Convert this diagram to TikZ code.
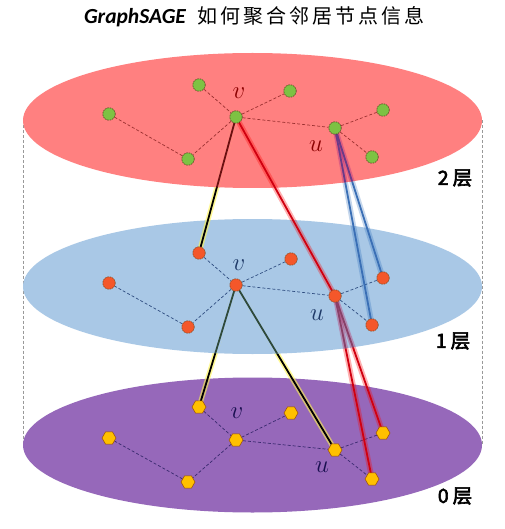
\documentclass[tikz,border=0pt]{standalone}
\usepackage{fontspec}
\newfontfamily\cjk[LetterSpace=15]{Noto Sans CJK SC}
\newfontfamily\cjkb[FakeBold=3]{Noto Sans CJK SC}
\newfontfamily\calib{Carlito}
\usetikzlibrary{shapes.geometric}
\pgfdeclarelayer{bg}
\pgfdeclarelayer{edges}
\pgfsetlayers{bg,edges,main}
\definecolor{topfill}{HTML}{FF8080}
\definecolor{midfill}{HTML}{A9C8E6}
\definecolor{botfill}{HTML}{9668BA}
\definecolor{edgeT}{HTML}{9A3030}
\definecolor{edgeM}{HTML}{2F4D80}
\definecolor{edgeB}{HTML}{3A2A70}
\definecolor{nodeG}{HTML}{7DC243}
\definecolor{nodeO}{HTML}{F4572A}
\definecolor{nodeY}{HTML}{FFC000}
\definecolor{lblT}{HTML}{8B0000}
\definecolor{lblM}{HTML}{1F3A68}
\definecolor{lblB}{HTML}{1A1050}
\definecolor{lineR}{HTML}{D00010}
\definecolor{lineB}{HTML}{3A6FB5}
\definecolor{tintK}{HTML}{6A1010}
\definecolor{tintB}{HTML}{6A3A88}
\definecolor{tintG}{HTML}{2F4A3A}
\definecolor{tintR}{HTML}{8A4068}
\tikzset{
  layer/.style={ellipse, minimum width=459pt, minimum height=135pt, inner sep=0pt},
  gnode/.style={circle, fill=nodeG, draw=black!55!brown, dash pattern=on 1.5pt off 1pt, line width=0.6pt, minimum size=12.5pt, inner sep=0pt},
  onode/.style={circle, fill=nodeO, draw=black!40!brown, dash pattern=on 1.5pt off 1pt, line width=0.6pt, minimum size=12.5pt, inner sep=0pt},
  ynode/.style={regular polygon, regular polygon sides=6, fill=nodeY, draw=orange!60!black, line width=0.5pt, minimum size=14pt, inner sep=0pt},
  intra/.style={dash pattern=on 3pt off 2pt, line width=0.7pt},
  lbl/.style={font=\fontsize{25}{25}\selectfont, inner sep=0pt},
  lay/.style={font=\cjkb\fontsize{19.5}{20}\selectfont, inner sep=0pt},
  glowY/.style={draw=yellow!70!white, line width=5pt, opacity=0.6},
  glowR/.style={draw=red, line width=5.5pt, opacity=0.3},
  glowB/.style={draw=cyan!40!blue, line width=5.5pt, opacity=0.25},
  coreK/.style={draw=black, line width=1.8pt},
  coreR/.style={draw=lineR, line width=1.8pt},
  coreB/.style={draw=lineB, line width=1.8pt},
  vline/.style={draw=black!40, dash pattern=on 3pt off 2pt, line width=0.6pt}
}
\begin{document}
\begin{tikzpicture}[x=1pt,y=-1pt]
\useasboundingbox (0,0) rectangle (504,529);
% title
\node[inner sep=0pt] (title) at (254.5,17) {{\calib\bfseries\itshape\fontsize{21.5}{22}\selectfont GraphSAGE}\hspace{12pt}{\cjk\fontsize{20}{22}\selectfont 如何聚合邻居节点信息}};
% layers
\begin{pgfonlayer}{bg}
\fill[white] (0,0) rectangle (504,529);
\node[layer] (L2) at (252.5,120.5) {};
\node[layer] (L1) at (252.5,286.5) {};
\node[layer] (L0) at (252.5,445) {};
\draw[vline] (L2.west) -- (L0.west);
\draw[vline] (L2.east) -- (L0.east);
\fill[topfill] (L2.center) ellipse [x radius=229.5, y radius=67.5];
\fill[midfill] (L1.center) ellipse [x radius=229.5, y radius=67.5];
\fill[botfill] (L0.center) ellipse [x radius=229.5, y radius=67.5];
\end{pgfonlayer}
% top layer nodes
\node[gnode] (t-A) at (199,85) {};
\node[gnode] (t-B) at (290,91) {};
\node[gnode] (t-C) at (109,114) {};
\node[gnode] (t-v) at (236,117) {};
\node[gnode] (t-D) at (383,110) {};
\node[gnode] (t-u) at (335,128) {};
\node[gnode] (t-E) at (188,159) {};
\node[gnode] (t-F) at (372,157) {};
% middle layer nodes
\node[onode] (m-A) at (199,253) {};
\node[onode] (m-B) at (291,259) {};
\node[onode] (m-C) at (109,283) {};
\node[onode] (m-v) at (236,285) {};
\node[onode] (m-D) at (383,278) {};
\node[onode] (m-u) at (335,296) {};
\node[onode] (m-E) at (188,327) {};
\node[onode] (m-F) at (372,325) {};
% bottom layer nodes
\node[ynode] (b-A) at (199,407) {};
\node[ynode] (b-B) at (291,413) {};
\node[ynode] (b-C) at (109,438) {};
\node[ynode] (b-v) at (236,440) {};
\node[ynode] (b-D) at (383,433) {};
\node[ynode] (b-u) at (335,450) {};
\node[ynode] (b-E) at (188,482) {};
\node[ynode] (b-F) at (372,479) {};
% labels
\node[lbl, text=lblT] (tlv) at (239,93) {$v$};
\node[lbl, text=lblT] (tlu) at (316,146) {$u$};
\node[lbl, text=lblM] (mlv) at (239,265) {$v$};
\node[lbl, text=lblM] (mlu) at (317,315) {$u$};
\node[lbl, text=lblB] (blv) at (237,413) {$v$};
\node[lbl, text=lblB] (blu) at (322,467) {$u$};
\node[lay] (n2) at (455,178) {2\hspace{4pt}层};
\node[lay] (n1) at (453,341) {1\hspace{4pt}层};
\node[lay] (n0) at (455,496) {0\hspace{4pt}层};
\begin{pgfonlayer}{edges}
% intra-layer dashed edges
\foreach \l/\c in {t/edgeT, m/edgeM, b/edgeB} {
  \draw[intra, draw=\c] (\l-A) -- (\l-v) -- (\l-B);
  \draw[intra, draw=\c] (\l-v) -- (\l-E) -- (\l-C);
  \draw[intra, draw=\c] (\l-v) -- (\l-u) -- (\l-D);
  \draw[intra, draw=\c] (\l-u) -- (\l-F);
}
% top -> middle
\draw[glowY] (t-v.center) -- (m-A.center);
\draw[coreK] (t-v.center) -- (m-A.center);
\draw[glowR] (t-v.center) -- (m-u.center);
\draw[coreR] (t-v.center) -- (m-u.center);
\draw[glowB] (t-u.center) -- (m-D.center);
\draw[coreB] (t-u.center) -- (m-D.center);
\draw[glowB] (t-u.center) -- (m-F.center);
\draw[coreB] (t-u.center) -- (m-F.center);
% middle -> bottom
\draw[glowY] (m-v.center) -- (b-A.center);
\draw[coreK] (m-v.center) -- (b-A.center);
\draw[glowY] (m-v.center) -- (b-u.center);
\draw[coreK] (m-v.center) -- (b-u.center);
\draw[glowR] (m-u.center) -- (b-D.center);
\draw[coreR] (m-u.center) -- (b-D.center);
\draw[glowR] (m-u.center) -- (b-F.center);
\draw[coreR] (m-u.center) -- (b-F.center);
% tinted parts inside the top layer
\begin{scope}
\clip (L2.center) ellipse [x radius=229.5, y radius=67.5];
\draw[topfill, line width=5.5pt] (t-v.center) -- (m-A.center);
\draw[tintK, line width=1.8pt] (t-v.center) -- (m-A.center);
\draw[topfill, line width=6.5pt] (t-u.center) -- (m-D.center);
\draw[topfill, line width=6.5pt] (t-u.center) -- (m-F.center);
\draw[violet, line width=5pt, opacity=0.25] (t-u.center) -- (m-D.center);
\draw[violet, line width=5pt, opacity=0.25] (t-u.center) -- (m-F.center);
\draw[tintB, line width=1.8pt] (t-u.center) -- (m-D.center);
\draw[tintB, line width=1.8pt] (t-u.center) -- (m-F.center);
\end{scope}
% tinted parts inside the middle layer
\begin{scope}
\clip (L1.center) ellipse [x radius=229.5, y radius=67.5];
\draw[midfill, line width=5.5pt] (m-v.center) -- (b-A.center);
\draw[midfill, line width=5.5pt] (m-v.center) -- (b-u.center);
\draw[tintG, line width=1.8pt] (m-v.center) -- (b-A.center);
\draw[tintG, line width=1.8pt] (m-v.center) -- (b-u.center);
\draw[midfill, line width=6.5pt] (m-u.center) -- (b-D.center);
\draw[midfill, line width=6.5pt] (m-u.center) -- (b-F.center);
\draw[purple, line width=5pt, opacity=0.3] (m-u.center) -- (b-D.center);
\draw[purple, line width=5pt, opacity=0.3] (m-u.center) -- (b-F.center);
\draw[tintR, line width=1.8pt] (m-u.center) -- (b-D.center);
\draw[tintR, line width=1.8pt] (m-u.center) -- (b-F.center);
\end{scope}
\end{pgfonlayer}
\end{tikzpicture}
\end{document}
